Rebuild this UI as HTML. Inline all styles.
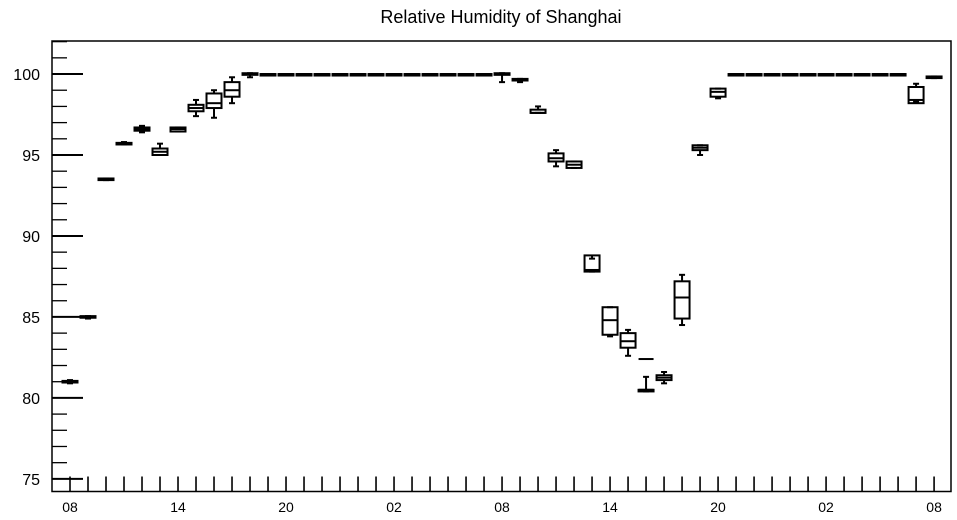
<!DOCTYPE html>
<html><head><meta charset="utf-8"><style>
body{margin:0;background:#fff;}
svg{display:block;font-family:"Liberation Sans",Arial,sans-serif;}
</style></head><body>
<svg id="chart" width="957" height="520" viewBox="0 0 957 520">
<text x="501" y="23" text-anchor="middle" font-size="18">Relative Humidity of Shanghai</text>
<rect x="52" y="41" width="899" height="450.5" fill="none" stroke="#000" stroke-width="1.5"/>
<g id="axes"></g><g id="boxes"></g>
</svg>
<script>
// hours offset from 08:00 of day 1
const hours = [0,1,2,3,4,5,6,7,8,9,10,11,12,13,14,15,16,17,18,19,20,21,22,23,24,25,26,27,28,29,30,31,32,33,34,35,36,37,38,39,40,41,42,43,44,45,46,47,48];
const whiskerLow = [80.9,84.9,93.45,95.65,96.4,95.0,96.45,97.4,97.3,98.2,99.8,100,100,100,100,100,100,100,100,100,100,100,100,100,99.5,99.5,97.6,94.3,94.2,87.8,83.8,82.6,80.4,80.9,84.5,95.0,98.5,100,100,100,100,100,100,100,100,100,100,98.3,99.75];
const q1 = [80.95,84.95,93.45,95.65,96.5,95.0,96.45,97.7,97.9,98.6,99.95,100,100,100,100,100,100,100,100,100,100,100,100,100,99.95,99.6,97.6,94.6,94.2,87.8,83.9,83.1,80.4,81.1,84.9,95.3,98.6,100,100,100,100,100,100,100,100,100,100,98.2,99.75];
const medians = [81.0,85.0,93.5,95.7,96.6,95.2,96.6,97.9,98.2,99.0,100,100,100,100,100,100,100,100,100,100,100,100,100,100,100,99.65,97.6,94.8,94.4,87.9,84.8,83.5,80.5,81.25,86.2,95.45,98.9,100,100,100,100,100,100,100,100,100,100,98.4,99.8];
const q3 = [81.05,85.05,93.55,95.75,96.7,95.4,96.7,98.1,98.8,99.5,100.05,100,100,100,100,100,100,100,100,100,100,100,100,100,100.05,99.7,97.8,95.1,94.6,88.8,85.6,84.0,80.5,81.4,87.2,95.6,99.1,100,100,100,100,100,100,100,100,100,100,99.2,99.85];
const whiskerHigh = [81.1,85.05,93.55,95.8,96.8,95.7,96.7,98.4,99.0,99.8,100.05,100,100,100,100,100,100,100,100,100,100,100,100,100,100.05,99.7,98.0,95.3,94.6,88.6,85.6,84.2,81.3,81.6,87.6,95.6,99.1,100,100,100,100,100,100,100,100,100,100,99.4,99.85];
const extraHours = [32];
const extraValues = [82.4];
const yTicks = [75,80,85,90,95,100];
const xLabels = ["08","14","20","02","08","14","20","02","08"];

const NS="http://www.w3.org/2000/svg";
const X0=52,X1=951,Y0=491.5,Y1=41;
const xmin=-1,xmax=48.94,ymin=74.22,ymax=102.04;
const xs=h=>X0+(h-xmin)/(xmax-xmin)*(X1-X0);
const ys=v=>Y0-(v-ymin)/(ymax-ymin)*(Y0-Y1);
function mk(tag,attrs,parent){const e=document.createElementNS(NS,tag);for(const k in attrs)e.setAttribute(k,attrs[k]);parent.appendChild(e);return e;}
const axes=document.getElementById('axes'),boxes=document.getElementById('boxes');
// y ticks
for(let v=75;v<=102;v++){
  const major=yTicks.includes(v);
  const t=mk('line',{x1:X0,x2:X0+(major?31:15),y1:ys(v),y2:ys(v),stroke:'#000','stroke-width':major?2:1.3},axes);
  
  
}
yTicks.forEach(v=>{
  const t=mk('text',{x:40,y:ys(v)+6,'text-anchor':'end','font-size':16},axes);
  t.textContent=v;
  
  
});
// x ticks
for(let h=0;h<=48;h++){
  const t=mk('line',{x1:xs(h),x2:xs(h),y1:Y0-15,y2:Y0,stroke:'#000','stroke-width':1.6},axes);
  
  
}
xLabels.forEach((l,i)=>{
  const t=mk('text',{x:xs(i*6),y:512,'text-anchor':'middle','font-size':14},axes);
  t.textContent=l;
  
  
});
// boxes
const hw=7.5;
hours.forEach((h,i)=>{
  const g=mk('g',{stroke:'#000','stroke-width':2,fill:'none'},boxes);
  
  
  const cx=xs(h);
  const yt=ys(q3[i]),yb=ys(q1[i]);
  mk('line',{x1:cx,x2:cx,y1:ys(whiskerHigh[i]),y2:yt},g);
  mk('line',{x1:cx,x2:cx,y1:yb,y2:ys(whiskerLow[i])},g);
  mk('line',{x1:cx-3,x2:cx+3,y1:ys(whiskerHigh[i]),y2:ys(whiskerHigh[i])},g);
  mk('line',{x1:cx-3,x2:cx+3,y1:ys(whiskerLow[i]),y2:ys(whiskerLow[i])},g);
  mk('rect',{x:cx-hw,y:yt,width:2*hw,height:Math.max(yb-yt,1.5)},g);
  mk('line',{x1:cx-hw,x2:cx+hw,y1:ys(medians[i]),y2:ys(medians[i])},g);
});
extraHours.forEach((h,i)=>{
  const l=mk('line',{x1:xs(h)-hw,x2:xs(h)+hw,y1:ys(extraValues[i]),y2:ys(extraValues[i]),stroke:'#000','stroke-width':2},boxes);
  
  
});
</script>
</body></html>
